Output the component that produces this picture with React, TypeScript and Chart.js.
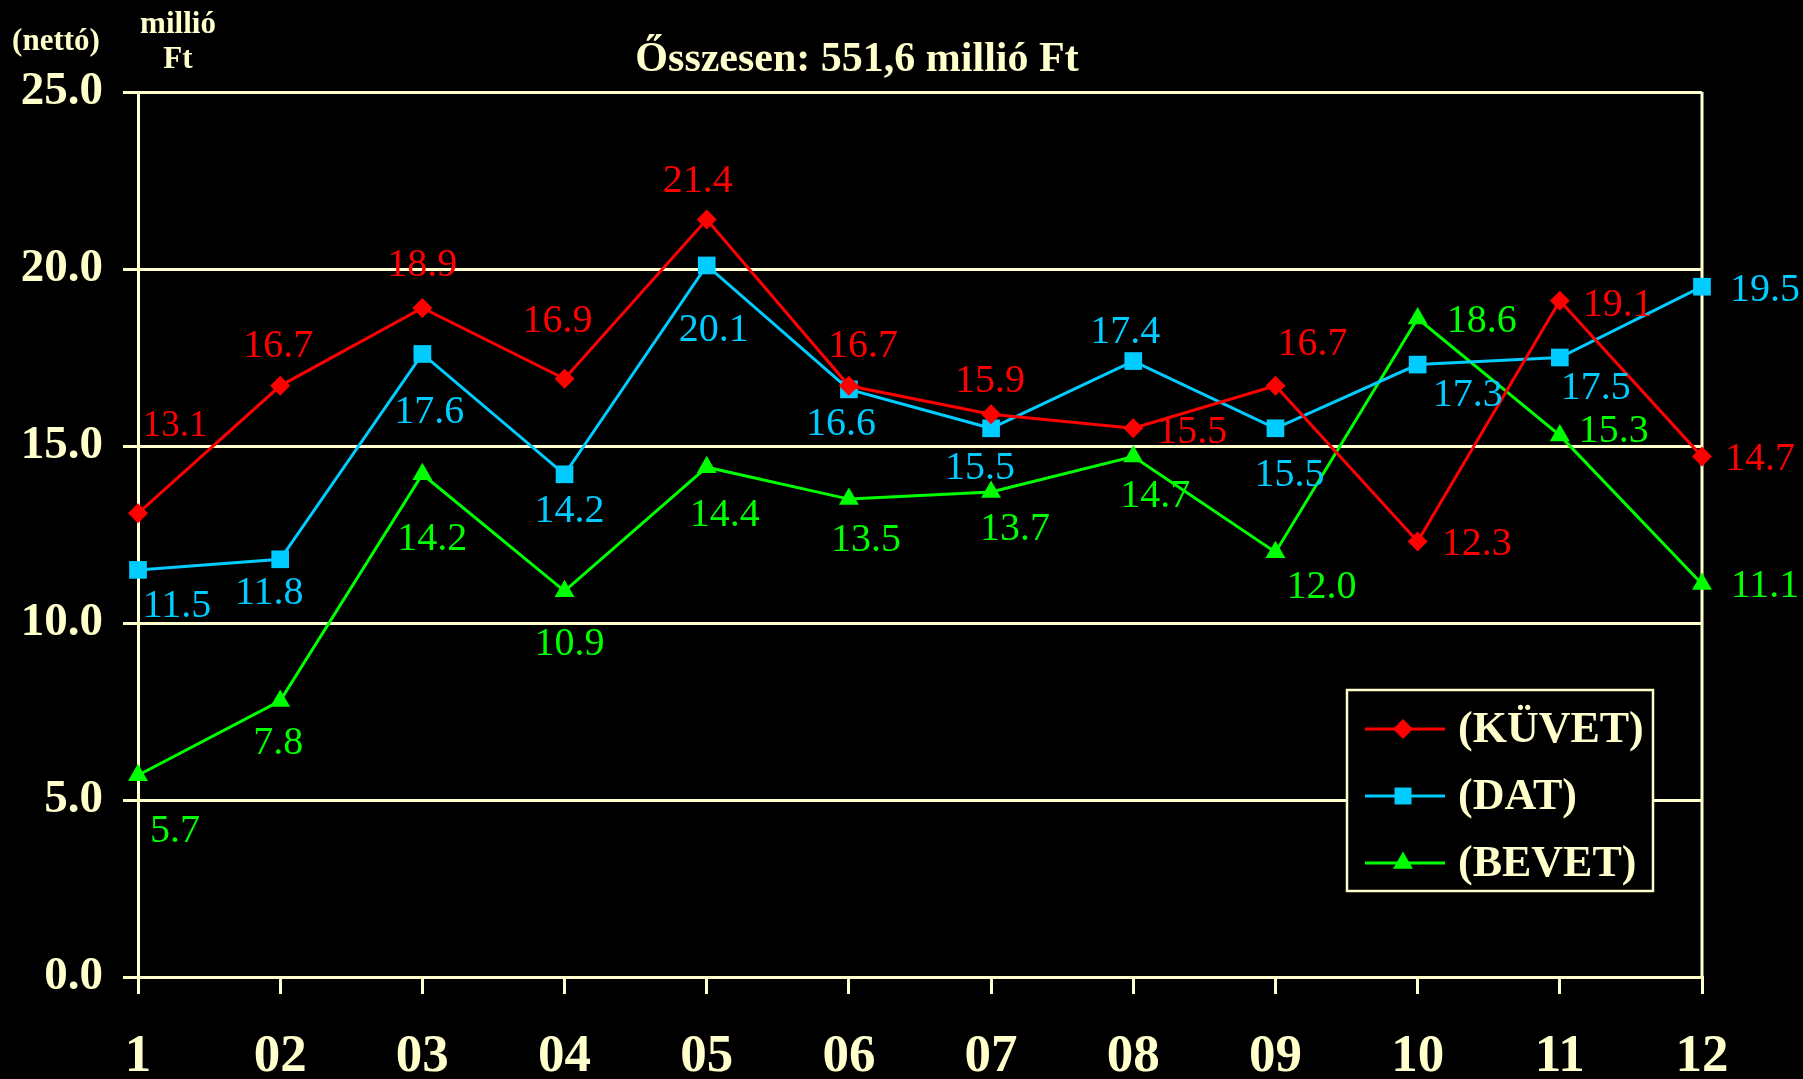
import React, { useEffect, useRef } from 'react';
import { Chart, registerables } from 'chart.js';

Chart.register(...registerables);

// ---- data ----
const categories = ['1', '02', '03', '04', '05', '06', '07', '08', '09', '10', '11', '12'];
const kuvetValues = [13.1, 16.7, 18.9, 16.9, 21.4, 16.7, 15.9, 15.5, 16.7, 12.3, 19.1, 14.7];
const datValues = [11.5, 11.8, 17.6, 14.2, 20.1, 16.6, 15.5, 17.4, 15.5, 17.3, 17.5, 19.5];
const bevetValues = [5.7, 7.8, 14.2, 10.9, 14.4, 13.5, 13.7, 14.7, 12.0, 18.6, 15.3, 11.1];
const seriesNames = ['(KÜVET)', '(DAT)', '(BEVET)'];
const yMin = 0;
const yMax = 25;
const yStep = 5;
const titleText = '\u0150sszesen: 551,6 millió Ft';
const unitLeft = '(nettó)';
const unitLines = ['millió', 'Ft'];

// ---- styles (label offsets relative to each point, in px) ----
const kuvetLabelOffsets = [[37, -89], [-2, -41], [0, -44], [-7, -59], [-9, -40], [14, -41], [-1, -35], [59, 2], [37, -43], [59, 1], [58, 3], [58, 1]];
const datLabelOffsets = [[39, 35], [-11, 32], [7, 57], [5, 35], [7, 63], [-8, 33], [-11, 38], [-8, -31], [14, 45], [50, 29], [36, 29], [63, 2]];
const bevetLabelOffsets = [[37, 54], [-2, 41], [10, 63], [5, 51], [18, 46], [17, 39], [24, 35], [22, 38], [46, 33], [64, 1], [54, -6], [63, 0]];
const labelFontSize = 40;
const smallLabelFontSize = 37; // the first red label is set a little smaller in the reference

const RED = '#FF0000';
const CYAN = '#00CCFF';
const GREEN = '#00FF00';
const CREAM = '#FFFFCC';
const SERIF = "'Liberation Serif', 'Times New Roman', serif";

function drawMarker(ctx: CanvasRenderingContext2D, style: string, x: number, y: number, r: number, color: string) {
  ctx.save();
  ctx.fillStyle = color;
  ctx.beginPath();
  if (style === 'rectRot') {
    ctx.moveTo(x, y - r);
    ctx.lineTo(x + r, y);
    ctx.lineTo(x, y + r);
    ctx.lineTo(x - r, y);
  } else if (style === 'rect') {
    const s = r * Math.SQRT1_2;
    ctx.rect(x - s, y - s, 2 * s, 2 * s);
  } else {
    ctx.moveTo(x, y - r);
    ctx.lineTo(x + r * 0.866, y + r * 0.5);
    ctx.lineTo(x - r * 0.866, y + r * 0.5);
  }
  ctx.closePath();
  ctx.fill();
  ctx.restore();
}

const decorPlugin = {
  id: 'decor',
  beforeDatasetsDraw(chart: any) {
    const { ctx, chartArea } = chart;
    ctx.save();
    ctx.strokeStyle = CREAM;
    ctx.lineWidth = 3;
    ctx.beginPath();
    ctx.moveTo(chartArea.right, chartArea.top);
    ctx.lineTo(chartArea.right, chartArea.bottom);
    ctx.stroke();
    ctx.restore();
  },
  afterDatasetsDraw(chart: any) {
    const { ctx } = chart;
    const offsets = [kuvetLabelOffsets, datLabelOffsets, bevetLabelOffsets];
    ctx.save();
    ctx.textAlign = 'center';
    ctx.textBaseline = 'middle';
    chart.data.datasets.forEach((ds: any, di: number) => {
      const meta = chart.getDatasetMeta(di);
      ctx.fillStyle = ds.borderColor;
      meta.data.forEach((el: any, i: number) => {
        const off = offsets[di][i];
        const size = di === 0 && i === 0 ? smallLabelFontSize : labelFontSize;
        ctx.font = `${size}px ${SERIF}`;
        ctx.fillText(Number(ds.data[i]).toFixed(1), el.x + off[0], el.y + off[1] + 2);
      });
    });
    ctx.restore();
  },
  afterDraw(chart: any) {
    const { ctx } = chart;
    ctx.save();
    // title
    ctx.fillStyle = CREAM;
    ctx.textAlign = 'center';
    ctx.textBaseline = 'middle';
    ctx.font = `bold 42px ${SERIF}`;
    ctx.fillText(titleText, 857, 60);
    // unit texts
    ctx.font = `bold 31px ${SERIF}`;
    ctx.fillText(unitLeft, 56, 42);
    ctx.fillText(unitLines[0], 178, 25);
    ctx.fillText(unitLines[1], 178, 60);

    // legend
    const bx = 1347, by = 690, bw = 306, bh = 201;
    ctx.fillStyle = '#000000';
    ctx.fillRect(bx, by, bw, bh);
    ctx.strokeStyle = CREAM;
    ctx.lineWidth = 2.5;
    ctx.strokeRect(bx, by, bw, bh);
    const rows = [729, 796, 863];
    const styles = ['rectRot', 'rect', 'triangle'];
    const radii = [10, 12, 11.5];
    ctx.font = `bold 44px ${SERIF}`;
    ctx.textAlign = 'left';
    chart.data.datasets.forEach((ds: any, i: number) => {
      const y = rows[i];
      ctx.strokeStyle = ds.borderColor;
      ctx.lineWidth = 3;
      ctx.beginPath();
      ctx.moveTo(1365, y);
      ctx.lineTo(1445, y);
      ctx.stroke();
      drawMarker(ctx, styles[i], 1403, y, radii[i], ds.borderColor);
      ctx.fillStyle = CREAM;
      ctx.fillText(seriesNames[i], 1458, y + 2);
    });
    ctx.restore();
  },
};

export default function App() {
  const canvasRef = useRef<HTMLCanvasElement | null>(null);

  useEffect(() => {
    document.body.style.margin = '0';
    document.body.style.background = '#000';
    const canvas = canvasRef.current;
    if (!canvas) return;
    const chart = new Chart(canvas, {
      type: 'line',
      data: {
        labels: categories,
        datasets: [
          {
            label: seriesNames[0],
            data: kuvetValues,
            borderColor: RED,
            backgroundColor: RED,
            borderWidth: 3,
            pointStyle: 'rectRot',
            pointRadius: 10,
            pointBorderWidth: 0,
            tension: 0,
            clip: false,
          },
          {
            label: seriesNames[1],
            data: datValues,
            borderColor: CYAN,
            backgroundColor: CYAN,
            borderWidth: 3,
            pointStyle: 'rect',
            pointRadius: 12.5,
            pointBorderWidth: 0,
            tension: 0,
            clip: false,
          },
          {
            label: seriesNames[2],
            data: bevetValues,
            borderColor: GREEN,
            backgroundColor: GREEN,
            borderWidth: 3,
            pointStyle: 'triangle',
            pointRadius: 11.5,
            pointBorderWidth: 0,
            tension: 0,
            clip: false,
          },
        ],
      },
      options: {
        responsive: false,
        animation: false,
        layout: { padding: { left: 0, right: 101, top: 92, bottom: 0 } },
        plugins: {
          legend: { display: false },
          tooltip: { enabled: false },
          title: { display: false },
        },
        scales: {
          x: {
            type: 'category',
            offset: false,
            grid: { drawOnChartArea: false, color: CREAM, lineWidth: 3, tickLength: 17 },
            border: { color: CREAM, width: 3 },
            ticks: {
              color: CREAM,
              font: { family: SERIF, size: 53, weight: 'bold' },
              padding: 32,
              maxRotation: 0,
              autoSkip: false,
            },
            afterFit: (s: any) => { s.height = 102; },
          },
          y: {
            min: yMin,
            max: yMax,
            ticks: {
              stepSize: yStep,
              callback: (v: any) => Number(v).toFixed(1),
              color: CREAM,
              font: { family: SERIF, size: 47, weight: 'bold' },
              padding: 20,
            },
            grid: { color: CREAM, lineWidth: 3, tickLength: 15 },
            border: { color: CREAM, width: 3 },
            afterFit: (s: any) => { s.width = 138; },
          },
        },
      },
      plugins: [decorPlugin],
    } as any);
    return () => chart.destroy();
  }, []);

  return (
    <div style={{ width: 1803, height: 1079, background: '#000' }}>
      <canvas ref={canvasRef} width={1803} height={1079} style={{ display: 'block' }} />
    </div>
  );
}
